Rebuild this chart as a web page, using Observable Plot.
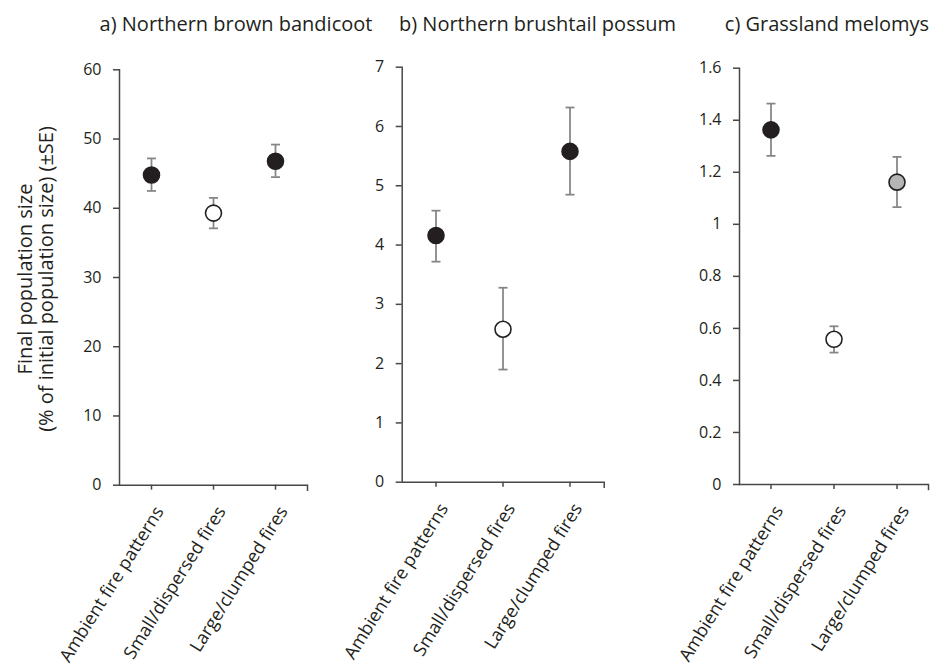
<!DOCTYPE html>
<html>
<head>
<meta charset="utf-8">
<script src="https://cdn.jsdelivr.net/npm/d3@7"></script>
<script src="https://cdn.jsdelivr.net/npm/@observablehq/plot@0.6"></script>
<style>
  body { margin: 0; background: #fff; }
  #fig { position: relative; width: 931px; height: 668px; overflow: hidden;
         font-family: "Open Sans", sans-serif; color: #231f20; }
  .panel { position: absolute; top: 0; }
  .ptitle { position: absolute; top: 14px; transform: translateX(-50%);
            white-space: nowrap; font-size: 20px; line-height: 20px; }
  #ytitle { position: absolute; left: -165px; top: 258px; width: 400px; height: 42px;
            transform: rotate(-90deg); transform-origin: 50% 50%;
            text-align: center; font-size: 20px; line-height: 21px; white-space: nowrap; }
</style>
</head>
<body>
<div id="fig"></div>
<script>
// Fire-management treatments (x categories shared by all panels)
const treatments = ["Ambient fire patterns", "Small/dispersed fires", "Large/clumped fires"];

// a) Northern brown bandicoot: final population (% of initial) with ±SE bounds
const bandicootMean = [44.8, 39.3, 46.8];
const bandicootLow  = [42.5, 37.1, 44.5];
const bandicootHigh = [47.2, 41.5, 49.2];
const bandicootMarker = ["solid", "open", "solid"];
const bandicootTicks = [0, 10, 20, 30, 40, 50, 60];

// b) Northern brushtail possum
const possumMean = [4.16, 2.58, 5.58];
const possumLow  = [3.72, 1.90, 4.85];
const possumHigh = [4.58, 3.28, 6.32];
const possumMarker = ["solid", "open", "solid"];
const possumTicks = [0, 1, 2, 3, 4, 5, 6, 7];

// c) Grassland melomys
const melomysMean = [1.363, 0.558, 1.162];
const melomysLow  = [1.263, 0.507, 1.066];
const melomysHigh = [1.464, 0.608, 1.259];
const melomysMarker = ["solid", "open", "grey"];
const melomysTicks = [0, 0.2, 0.4, 0.6, 0.8, 1, 1.2, 1.4, 1.6];

const titles = ["a) Northern brown bandicoot", "b) Northern brushtail possum", "c) Grassland melomys"];
const yTitle = ["Final population size", "(% of initial population size) (±SE)"];

const axisColor = "#474747";
const barColor = "#858585";
const inkColor = "#231f20";

// short horizontal stroke used for the error-bar caps
const capSymbol = { draw(ctx) { ctx.moveTo(-4.5, 0); ctx.lineTo(4.5, 0); } };

function panel(cfg) {
  const rows = treatments.map((t, i) => ({
    t, mean: cfg.mean[i], lo: cfg.low[i], hi: cfg.high[i], marker: cfg.marker[i]
  }));
  const frameHeight = 668 - cfg.mt - cfg.mb;
  const svg = Plot.plot({
    width: cfg.width,
    height: 668,
    marginTop: cfg.mt, marginBottom: cfg.mb, marginLeft: cfg.ml, marginRight: cfg.mr,
    style: { fontFamily: "Open Sans, sans-serif", fontSize: "16px", background: "transparent", overflow: "visible", color: inkColor },
    x: { type: "band", domain: treatments, padding: 0, axis: null, label: null },
    y: { domain: [0, cfg.ticks[cfg.ticks.length - 1]], axis: null, label: null },
    color: { domain: ["solid", "open", "grey"], range: [inkColor, "#ffffff", "#b5b5b5"] },
    marks: [
      Plot.frame({ anchor: "left", stroke: axisColor, strokeWidth: 1.5 }),
      // short end tick closing the category axis on the right
      Plot.frame({ anchor: "right", insetTop: frameHeight, insetBottom: -5, stroke: axisColor, strokeWidth: 1.5 }),
      Plot.ruleY([0], { stroke: axisColor, strokeWidth: 1.5 }),
      Plot.axisY({ ticks: cfg.ticks, tickFormat: d3.format("~g"), tickSize: 6, tickPadding: 12,
                   stroke: axisColor, strokeWidth: 1.5, fill: inkColor, fontSize: 16, label: null }),
      // category tick marks (no text)
      Plot.axisX({ tickSize: 5, tickFormat: () => "", stroke: axisColor, strokeWidth: 1.5, label: null }),
      // rotated category labels
      Plot.axisX({ tickSize: 0, tickPadding: 23, tickRotate: -58, dx: 8,
                   fill: inkColor, fontSize: 18, label: null }),
      Plot.ruleX(rows, { x: "t", y1: "lo", y2: "hi", stroke: barColor, strokeWidth: 1.75 }),
      Plot.dot(rows, { x: "t", y: "lo", symbol: capSymbol, fill: "none", stroke: barColor, strokeWidth: 1.75 }),
      Plot.dot(rows, { x: "t", y: "hi", symbol: capSymbol, fill: "none", stroke: barColor, strokeWidth: 1.75 }),
      Plot.dot(rows, { x: "t", y: "mean", r: 8, fill: "marker", stroke: inkColor, strokeWidth: 1.6 })
    ]
  });
  svg.classList.add("panel");
  svg.style.left = cfg.left + "px";
  return svg;
}

const fig = document.getElementById("fig");

fig.append(panel({ left: 0, width: 330, ml: 119, mr: 23, mt: 69.3, mb: 183.3,
  mean: bandicootMean, low: bandicootLow, high: bandicootHigh, marker: bandicootMarker, ticks: bandicootTicks }));
fig.append(panel({ left: 330, width: 310, ml: 71.7, mr: 36.3, mt: 66.7, mb: 186.3,
  mean: possumMean, low: possumLow, high: possumHigh, marker: possumMarker, ticks: possumTicks }));
fig.append(panel({ left: 640, width: 291, ml: 99, mr: 3, mt: 67.7, mb: 184,
  mean: melomysMean, low: melomysLow, high: melomysHigh, marker: melomysMarker, ticks: melomysTicks }));

// panel headings
const titleCentres = [236, 537.5, 827];
titles.forEach((txt, i) => {
  const d = document.createElement("div");
  d.className = "ptitle";
  d.style.left = titleCentres[i] + "px";
  d.textContent = txt;
  fig.append(d);
});

// shared y-axis title (two lines, rotated)
const yt = document.createElement("div");
yt.id = "ytitle";
yt.innerHTML = yTitle.map(s => `<div>${s}</div>`).join("");
fig.append(yt);
</script>
</body>
</html>
